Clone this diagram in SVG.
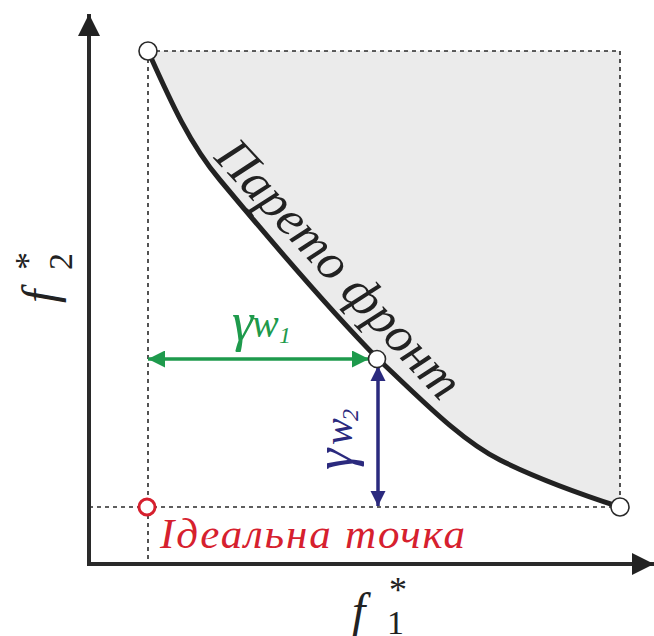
<svg xmlns="http://www.w3.org/2000/svg" width="654" height="636" viewBox="0 0 654 636">
<defs>
<marker id="ak" viewBox="0 0 10 10" refX="10" refY="5" markerWidth="24" markerHeight="22" markerUnits="userSpaceOnUse" orient="auto-start-reverse"><path d="M0,0 L10,5 L0,10 Z" fill="#222"/></marker>
<marker id="ag" viewBox="0 0 10 10" refX="10" refY="5" markerWidth="18" markerHeight="17" markerUnits="userSpaceOnUse" orient="auto-start-reverse"><path d="M0,0 L10,5 L0,10 Z" fill="#1e9a4c"/></marker>
<marker id="ab" viewBox="0 0 10 10" refX="10" refY="5" markerWidth="15" markerHeight="17" markerUnits="userSpaceOnUse" orient="auto-start-reverse"><path d="M0,0 L10,5 L0,10 Z" fill="#2b2a7e"/></marker>
</defs>
<g id="region">
<path d="M148,51 C170,100 190,145 220,180 C270,240 330,310 378,359 C420,398 460,440 500,460 C540,480 580,494 620,507 L620,51 Z" fill="#ebebeb"/>
</g>
<g id="connectors" fill="none">
<g stroke="#2a2a2a" stroke-width="1.6" stroke-dasharray="4 4">
<line x1="148" y1="51" x2="620" y2="51"/>
<line x1="620" y1="51" x2="620" y2="507"/>
<line x1="148" y1="51" x2="148" y2="562"/>
<line x1="89" y1="507" x2="620" y2="507"/>
</g>
<line x1="89" y1="564" x2="89" y2="14" stroke="#2a2a2a" stroke-width="4" marker-end="url(#ak)"/>
<line x1="87" y1="564" x2="654" y2="564" stroke="#2a2a2a" stroke-width="4" marker-end="url(#ak)"/>
<path d="M148,51 C170,100 190,145 220,180 C270,240 330,310 378,359 C420,398 460,440 500,460 C540,480 580,494 620,507" stroke="#222" stroke-width="5"/>
<line x1="148" y1="359" x2="369" y2="359" stroke="#1e9a4c" stroke-width="3.5" marker-start="url(#ag)" marker-end="url(#ag)"/>
<line x1="378" y1="366" x2="378" y2="506" stroke="#2b2a7e" stroke-width="3.5" marker-start="url(#ab)" marker-end="url(#ab)"/>
</g>
<g id="p-top"><circle cx="148" cy="51" r="9" fill="#fff" stroke="#2a2a2a" stroke-width="1.6"/></g>
<g id="p-bottom"><circle cx="620" cy="507" r="9" fill="#fff" stroke="#2a2a2a" stroke-width="1.6"/></g>
<g id="p-mid"><circle cx="377" cy="359" r="8.5" fill="#fff" stroke="#2a2a2a" stroke-width="1.6"/></g>
<g id="ideal">
<circle cx="147" cy="507" r="8" fill="#fff" stroke="#d6202e" stroke-width="3"/>
<text x="160" y="548" fill="#d6202e" textLength="305" style="font-family:'Liberation Serif',serif;font-style:italic;font-size:43px">Ідеальна точка</text>
</g>
<g id="pareto-label">
<text transform="translate(213,158) rotate(47)" fill="#222" style="font-family:'Liberation Serif',serif;font-style:italic;font-size:51px">Парето фронт</text>
</g>
<g id="gamma1" fill="#1e9a4c">
<text x="232" y="340" style="font-family:'Liberation Serif',serif;font-style:italic;font-size:54px">γ</text>
<text x="252" y="337" style="font-family:'Liberation Serif',serif;font-style:italic;font-size:40px">w</text>
<text x="279" y="343" style="font-family:'Liberation Serif',serif;font-style:italic;font-size:24px">1</text>
</g>
<g id="gamma2" fill="#2b2a7e" transform="translate(352,470) rotate(-90)">
<text x="0" y="0" style="font-family:'Liberation Serif',serif;font-style:italic;font-size:54px">γ</text>
<text x="25" y="0" style="font-family:'Liberation Serif',serif;font-style:italic;font-size:40px">w</text>
<text x="49" y="6" style="font-family:'Liberation Serif',serif;font-style:italic;font-size:24px">2</text>
</g>
<g id="f1" fill="#222">
<text x="352" y="627" style="font-family:'Liberation Serif',serif;font-style:italic;font-size:48px">f</text>
<text x="387" y="634" style="font-family:'Liberation Serif',serif;font-size:34px">1</text>
<text x="389" y="602" style="font-family:'Liberation Serif',serif;font-size:36px">*</text>
</g>
<g id="f2" fill="#222" transform="translate(56,303) rotate(-90)">
<text x="0" y="0" style="font-family:'Liberation Serif',serif;font-style:italic;font-size:48px">f</text>
<text x="33" y="16" style="font-family:'Liberation Serif',serif;font-size:34px">2</text>
<text x="33" y="-16" style="font-family:'Liberation Serif',serif;font-size:36px">*</text>
</g>
</svg>
